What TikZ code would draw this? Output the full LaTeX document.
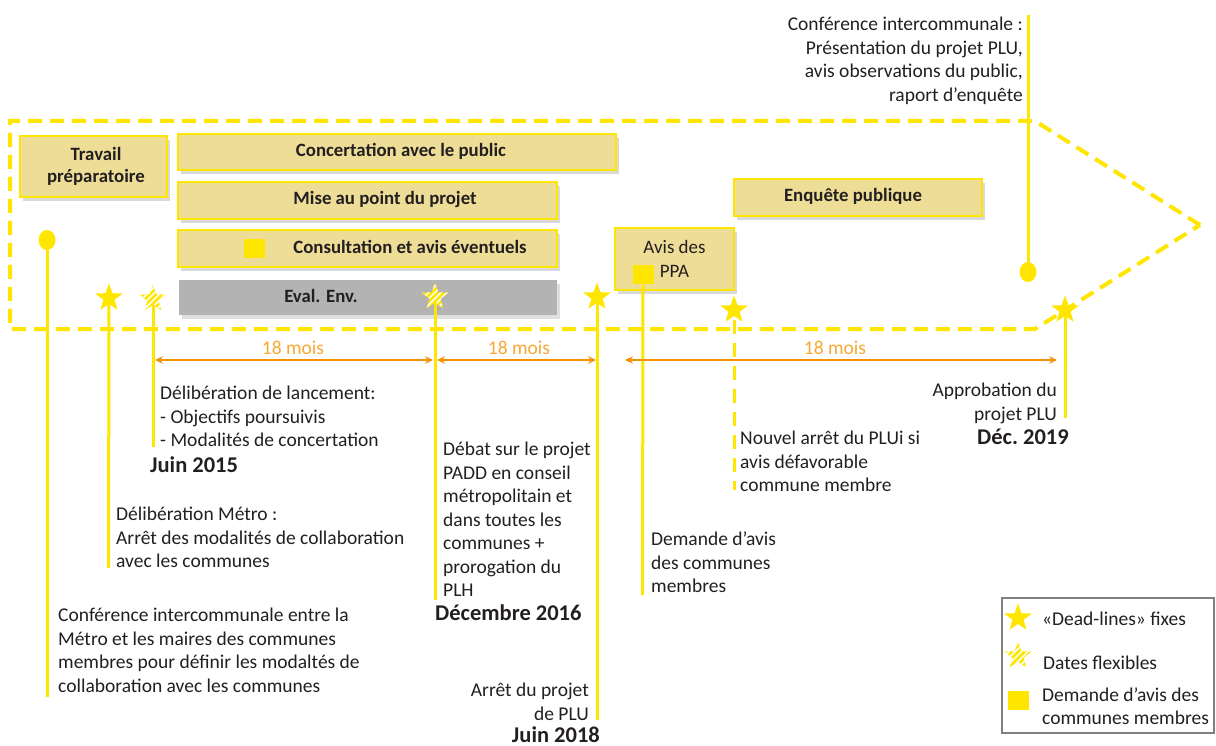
\documentclass[tikz,border=0pt]{standalone}
\usepackage{fontspec}
\setmainfont{Carlito}
\usetikzlibrary{shapes.geometric,shadows,patterns.meta,arrows.meta}
\definecolor{yel}{RGB}{255,230,0}
\definecolor{boxfill}{RGB}{238,221,150}
\definecolor{evalgray}{RGB}{179,179,179}
\definecolor{arrorange}{RGB}{243,146,0}
\definecolor{txtorange}{RGB}{247,168,51}
\definecolor{ink}{RGB}{35,31,32}
\definecolor{legendgray}{RGB}{128,128,128}
\begin{document}
\begin{tikzpicture}[x=1pt,y=-1pt,
  box/.style={draw=yel, line width=2.5pt, fill=boxfill, inner sep=0pt,
    drop shadow={shadow xshift=3pt, shadow yshift=-4pt, opacity=0.3},
    font=\fontsize{18.8}{22}\selectfont\bfseries, text=ink, align=center},
  evalbox/.style={fill=evalgray, inner sep=0pt,
    drop shadow={shadow xshift=3pt, shadow yshift=-4pt, opacity=0.25}},
  boxtxt/.style={font=\fontsize{18.8}{22}\selectfont\bfseries, text=ink, inner sep=0pt},
  txt/.style={font=\fontsize{19.5}{23.5}\selectfont, text=ink, inner sep=0pt},
  datetxt/.style={font=\fontsize{22.5}{26}\selectfont\bfseries, text=ink, inner sep=0pt},
  legtxt/.style={font=\fontsize{19.5}{23.5}\selectfont, text=ink, inner sep=0pt, align=left},
  fixstar/.style={star, star points=5, star point ratio=2.45, minimum size=29pt, inner sep=0pt, fill=yel},
  flexstar/.style={star, star points=5, star point ratio=2.4, minimum size=28pt, inner sep=0pt,
    fill=yel, postaction={pattern={Lines[angle=45,distance=4.4pt,line width=1.5pt]}, pattern color=white}},
  sq/.style={fill=yel, inner sep=0pt, minimum width=21pt, minimum height=19pt},
  dot/.style={ellipse, fill=yel, inner sep=0pt, minimum width=17pt, minimum height=20pt},
  vline/.style={draw=yel, line width=3pt},
  vdash/.style={draw=yel, line width=3pt, dash pattern=on 14pt off 9pt},
  span/.style={draw=arrorange, line width=1.6pt, {Stealth[length=8pt,width=7.5pt]}-{Stealth[length=8pt,width=7.5pt]}},
  spantxt/.style={font=\fontsize{19.5}{23.5}\selectfont, text=txtorange, inner sep=0pt},
  frame/.style={draw=yel, line width=4pt, dash pattern=on 14pt off 8pt}
]
\useasboundingbox (0,0) rectangle (1216,746);

% big dashed arrow frame
\coordinate (fa) at (1200,225);
\coordinate (fb) at (1035,121);
\coordinate (fc) at (10,121);
\coordinate (fd) at (10,329);
\coordinate (fe) at (1035,329);
\draw[frame] (fa) -- (fb) -- (fc) -- (fd) -- (fe) -- cycle;

% boxes
\node[box, minimum width=147pt, minimum height=61pt] (travail) at (93.5,166.5) {};
\node[boxtxt, align=center] (travailtxt) at (96,166) {Travail\\préparatoire};
\node[box, minimum width=438pt, minimum height=36pt] (concert) at (397,152) {};
\node[boxtxt] (concerttxt) at (401,151) {Concertation avec le public};
\node[box, minimum width=379pt, minimum height=37pt] (mise) at (367.5,200.5) {};
\node[boxtxt] (misetxt) at (385,199) {Mise au point du projet};
\node[box, minimum width=379pt, minimum height=37pt] (consult) at (367.5,248.5) {};
\node[boxtxt] (consulttxt) at (410,247) {Consultation et avis éventuels};
\node[sq] (sq1) at (254.5,249) {};
\node[evalbox, minimum width=378pt, minimum height=35pt] (eval) at (368,297.5) {};
\node[boxtxt] (evaltxt) at (321,296) {Eval. Env.};
\node[box, minimum width=119pt, minimum height=62pt, font=\fontsize{19}{23.5}\selectfont] (ppa) at (674.5,259) {Avis des\\PPA};
\node[box, minimum width=248pt, minimum height=37pt] (enquete) at (858,197.5) {};
\node[boxtxt] (enquetetxt) at (853,196) {Enquête publique};
\node[sq] (sq2) at (643,275) {};

% markers
\node[dot] (c1) at (47,240) {};
\node[dot] (c2) at (1028,272) {};
\node[fixstar] (s1) at (109,298) {};
\node[flexstar] (h1) at (153,299) {};
\node[flexstar] (h2) at (435,297) {};
\node[fixstar] (s2) at (597,297) {};
\node[fixstar] (s3) at (734,310) {};
\node[fixstar] (s4) at (1065,310) {};

% end points of the vertical lines
\coordinate (e1) at (47,697);
\coordinate (e2) at (108.5,568);
\coordinate (e3) at (153,447);
\coordinate (e4) at (435,600);
\coordinate (e5) at (597,720);
\coordinate (e6) at (642.5,595);
\coordinate (e7) at (734,490);
\coordinate (e8) at (1028,15);
\coordinate (e9) at (1065,418);

\draw[vline] (c1.south) -- (e1);
\draw[vline] (s1.south) -- (e2);
\draw[vline] (h1.south) -- (e3);
\draw[vline] (h2.south) -- (e4);
\draw[vline] (s2.south) -- (e5);
\draw[vline] (sq2.south) -- (e6);
\draw[vdash] (s3.south) ++(0,4) -- (e7);
\draw[vline] (c2.north) -- (e8);
\draw[vline] (s4.south) -- (e9);

% spans
\coordinate (a1l) at (155,360); \coordinate (a1r) at (433,360);
\coordinate (a2l) at (437,360); \coordinate (a2r) at (596,360);
\coordinate (a3l) at (625,360); \coordinate (a3r) at (1057,360);
\draw[span] (a1l) -- (a1r);
\draw[span] (a2l) -- (a2r);
\draw[span] (a3l) -- (a3r);
\node[spantxt] (m1) at (293,348) {18 mois};
\node[spantxt] (m2) at (519,348) {18 mois};
\node[spantxt] (m3) at (835,348) {18 mois};

% texts
\node[txt, anchor=north west, align=left] (launch) at (160,386)
  {Délibération de lancement:\\- Objectifs poursuivis\\- Modalités de concertation};
\node[datetxt, anchor=west] (juin15) at (150,465) {Juin 2015};
\node[txt, anchor=north west, align=left] (metro) at (116,507)
  {Délibération Métro :\\Arrêt des modalités de collaboration\\avec les communes};
\node[txt, anchor=north west, align=left] (conf1) at (58,608)
  {Conférence intercommunale entre la\\Métro et les maires des communes\\membres pour définir les modaltés de\\collaboration avec les communes};
\node[txt, anchor=north west, align=left] (debat) at (443,442)
  {Débat sur le projet\\PADD en conseil\\métropolitain et\\dans toutes les\\communes +\\prorogation du\\PLH};
\node[datetxt, anchor=west] (dec16) at (435,613) {Décembre 2016};
\node[txt, anchor=north east, align=right] (arret) at (589,683) {Arrêt du projet\\de PLU};
\node[datetxt, anchor=east] (juin18) at (600,735) {Juin 2018};
\node[txt, anchor=north west, align=left] (demande) at (651,532) {Demande d’avis\\des communes\\membres};
\node[txt, anchor=north west, align=left] (nouvel) at (740,431) {Nouvel arrêt du PLUi si\\avis défavorable\\commune membre};
\node[txt, anchor=north east, align=right] (approb) at (1057,383) {Approbation du\\projet PLU};
\node[datetxt, anchor=east] (dec19) at (1069,437) {Déc.\ 2019};
\node[txt, anchor=north east, align=right] (conf2) at (1023,17)
  {Conférence intercommunale :\\Présentation du projet PLU,\\avis observations du public,\\raport d’enquête};

% legend
\node[draw=legendgray, line width=1.2pt, minimum width=212pt, minimum height=135pt, inner sep=0pt] (legend) at (1108,665.5) {};
\node[fixstar] (ls1) at (1018,618) {};
\node[legtxt, anchor=west] (lt1) at (1042,619) {«Dead-lines» fixes};
\node[flexstar] (lh1) at (1018,656) {};
\node[legtxt, anchor=west] (lt2) at (1043,663) {Dates flexibles};
\node[sq] (lsq) at (1018,700) {};
\node[legtxt, anchor=west] (lt3) at (1042,706) {Demande d’avis des\\communes membres};
\end{tikzpicture}
\end{document}
